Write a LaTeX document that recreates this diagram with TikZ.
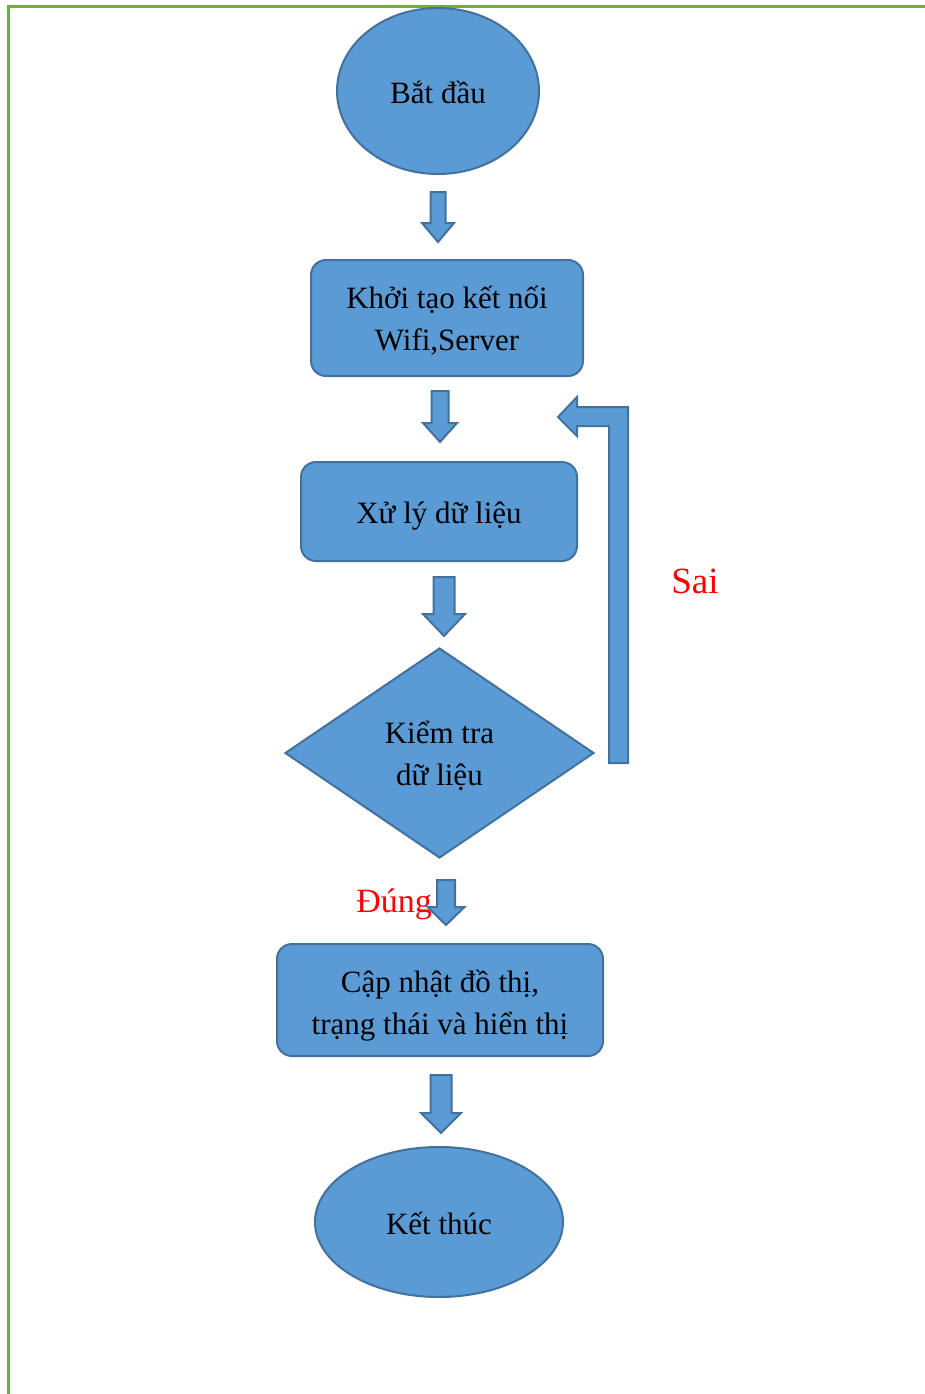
\documentclass[tikz,border=0pt]{standalone}
\usepackage{fontspec}
\setmainfont{Liberation Serif}
\usetikzlibrary{shapes.geometric}
\definecolor{boxfill}{HTML}{5B9BD5}
\definecolor{boxline}{HTML}{41719C}
\definecolor{frameg}{HTML}{70AD47}
\tikzset{
  shp/.style={draw=boxline, fill=boxfill, line width=2pt, inner sep=0pt},
  rbox/.style={shp, rectangle, rounded corners=15pt},
  oval/.style={shp, ellipse},
  dia/.style={shp, diamond},
  txt/.style={align=center, inner sep=0pt, font=\fontsize{31}{42}\selectfont},
  blk/.style={draw=boxline, fill=boxfill, line width=2pt, line join=miter},
  lbl/.style={text=red, inner sep=0pt},
  frame/.style={draw=frameg, line width=2.5pt}
}
\newcommand{\bdown}[6]{\draw[blk] ({#1-#5},#2) -- ({#1+#5},#2) -- ({#1+#5},#3) -- ({#1+#6},#3) -- (#1,#4) -- ({#1-#6},#3) -- ({#1-#5},#3) -- cycle;}
\begin{document}
\begin{tikzpicture}[x=1pt,y=-1pt]
\useasboundingbox (0,0) rectangle (925,1394);
\draw[frame] (7,6.3) -- (925,6.3);
\draw[frame] (8.5,5) -- (8.5,1394);

\node[oval, minimum width=202pt, minimum height=166pt] (start) at (438,91) {};
\node[rbox, minimum width=272pt, minimum height=116pt] (init) at (447,318) {};
\node[rbox, minimum width=276pt, minimum height=99pt] (proc) at (439,511.5) {};
\node[dia, minimum width=309pt, minimum height=210pt] (check) at (439.5,753) {};
\node[rbox, minimum width=326pt, minimum height=112pt] (upd) at (440,1000) {};
\node[oval, minimum width=248pt, minimum height=150pt] (stop) at (439,1222) {};

\node[txt] (start-t) at ([yshift=-1pt]start.center) {Bắt đầu};
\node[txt] (init-t) at ([yshift=-3pt]init.center) {Khởi tạo kết nối\\Wifi,Server};
\node[txt] (proc-t) at ([yshift=-5pt]proc.center) {Xử lý dữ liệu};
\node[txt] (check-t) at ([yshift=-3pt]check.center) {Kiểm tra\\dữ liệu};
\node[txt] (upd-t) at ([yshift=-6pt]upd.center) {Cập nhật đồ thị,\\trạng thái và hiển thị};
\node[txt] (stop-t) at ([yshift=-1pt]stop.center) {Kết thúc};

\bdown{438}{192}{223}{242}{7.5}{16}
\bdown{440}{391}{423}{442}{8.5}{17}
\bdown{444}{577}{614}{636}{10.5}{21}
\bdown{446}{880}{907}{925}{9}{18.5}
\bdown{441}{1075}{1113}{1133}{10.5}{20}

\draw[blk] (609,763) -- (628,763) -- (628,407) -- (577,407) -- (577,397) -- (558,417) -- (577,436) -- (577,426) -- (609,426) -- cycle;

\node[lbl, font=\fontsize{37}{40}\selectfont] (sai) at (695,581) {Sai};
\node[lbl, font=\fontsize{34}{40}\selectfont, anchor=east] (dung) at (432,904) {Đúng};
\end{tikzpicture}
\end{document}
